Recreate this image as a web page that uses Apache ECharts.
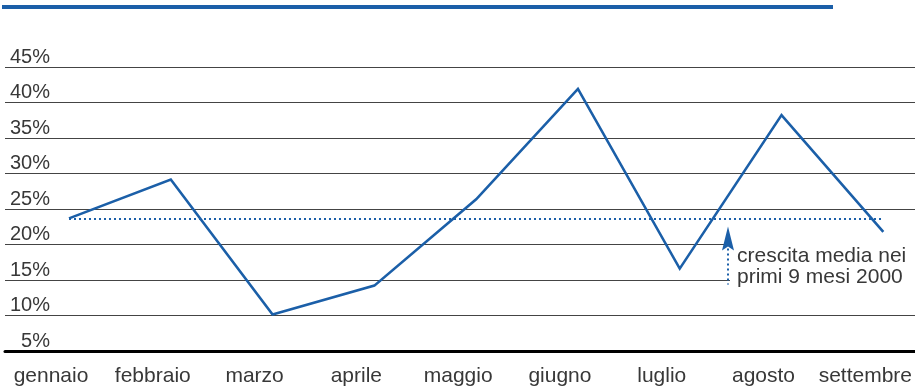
<!DOCTYPE html>
<html>
<head>
<meta charset="utf-8">
<script src="https://cdn.jsdelivr.net/npm/echarts@6/dist/echarts.min.js"></script>
<style>
  html, body { margin: 0; padding: 0; background: #fff; }
  #chart { width: 915px; height: 387px; }
</style>
</head>
<body>
<div id="chart"></div>
<script>
// Monthly growth, January to September 2000
const months = ['gennaio', 'febbraio', 'marzo', 'aprile', 'maggio', 'giugno', 'luglio', 'agosto', 'settembre'];
const growth = [23.6, 29.1, 10.0, 14.1, 26.3, 41.9, 16.5, 38.2, 21.7];
// Average growth over the first nine months
const averageGrowth = 23.6;
const averageNote = ['crescita media nei', 'primi 9 mesi 2000'];
// Value axis range and step
const yMin = 5, yMax = 45, yStep = 5;

const BLUE = '#1b5fa8';
const TEXT = '#383838';
const FONT = 'Liberation Sans';

const chart = echarts.init(document.getElementById('chart'), null, { renderer: 'canvas' });

const option = {
  animation: false,
  backgroundColor: '#fff',
  textStyle: { fontFamily: FONT },
  grid: [
    // full-width frame carrying the horizontal rules and percent labels
    { left: 5, right: 0, top: 67, bottom: 36 },
    // plotting area for the monthly line
    { left: 69, right: 31, top: 67, bottom: 36 }
  ],
  xAxis: [
    {
      gridIndex: 0, type: 'value', min: 0, max: 1,
      axisLine: { show: true, lineStyle: { color: '#000', width: 3 } },
      axisTick: { show: false }, axisLabel: { show: false }, splitLine: { show: false }
    },
    {
      gridIndex: 1, type: 'category', data: months, boundaryGap: false,
      axisLine: { show: false }, axisTick: { show: false }, splitLine: { show: false },
      axisLabel: {
        interval: 0, hideOverlap: false,
        color: TEXT, fontFamily: FONT, fontSize: 21, margin: 16,
        padding: [0, 36, 0, 0]
      }
    }
  ],
  yAxis: [
    {
      gridIndex: 0, type: 'value', min: yMin, max: yMax, interval: yStep,
      axisLine: { show: false }, axisTick: { show: false },
      splitLine: { show: true, lineStyle: { color: '#444', width: 1.2 } },
      axisLabel: {
        inside: true, margin: 45, align: 'right', verticalAlign: 'bottom',
        padding: [0, 0, 0, 0], lineHeight: 20,
        color: TEXT, fontFamily: FONT, fontSize: 20,
        formatter: '{value}%'
      }
    },
    {
      gridIndex: 1, type: 'value', min: yMin, max: yMax, interval: yStep,
      show: false, splitLine: { show: false }
    }
  ],
  series: [
    {
      type: 'line', xAxisIndex: 1, yAxisIndex: 1,
      data: growth,
      symbol: 'none',
      lineStyle: { color: BLUE, width: 2.6, join: 'miter' },
      markLine: {
        silent: true, symbol: 'none', label: { show: false },
        lineStyle: { color: BLUE, width: 2.2, type: [2, 3], cap: 'butt' },
        data: [[
          { coord: [months[0], averageGrowth] },
          { coord: [months[months.length - 1], averageGrowth] }
        ]]
      }
    }
  ]
};
chart.setOption(option);

// Arrow pointing up at the average line, with its caption on a white patch
const avgY = chart.convertToPixel({ yAxisIndex: 1 }, averageGrowth);
const ax = 728;
const headTop = avgY + 8;
const headBottom = headTop + 24;
chart.setOption({
  graphic: [
    // blue rule along the top edge
    { type: 'rect', shape: { x: 2, y: 5, width: 831, height: 4 }, style: { fill: BLUE } },
    { type: 'rect', z: 10, shape: { x: ax + 2, y: headTop + 8, width: 915 - ax, height: 52 }, style: { fill: '#fff' } },
    { type: 'polygon', z: 11, shape: { points: [[ax, headTop], [ax - 6, headBottom], [ax, headBottom - 4], [ax + 6, headBottom]] }, style: { fill: BLUE } },
    { type: 'line', z: 11, shape: { x1: ax, y1: headBottom - 2, x2: ax, y2: headBottom + 34 }, style: { stroke: BLUE, lineWidth: 2, lineDash: [2, 3] } },
    {
      type: 'text', z: 11, x: 737, y: headBottom - 5,
      style: { text: averageNote.join('\n'), fill: TEXT, font: '21px "' + FONT + '"', lineHeight: 21, textVerticalAlign: 'top' }
    }
  ]
});
</script>
</body>
</html>
